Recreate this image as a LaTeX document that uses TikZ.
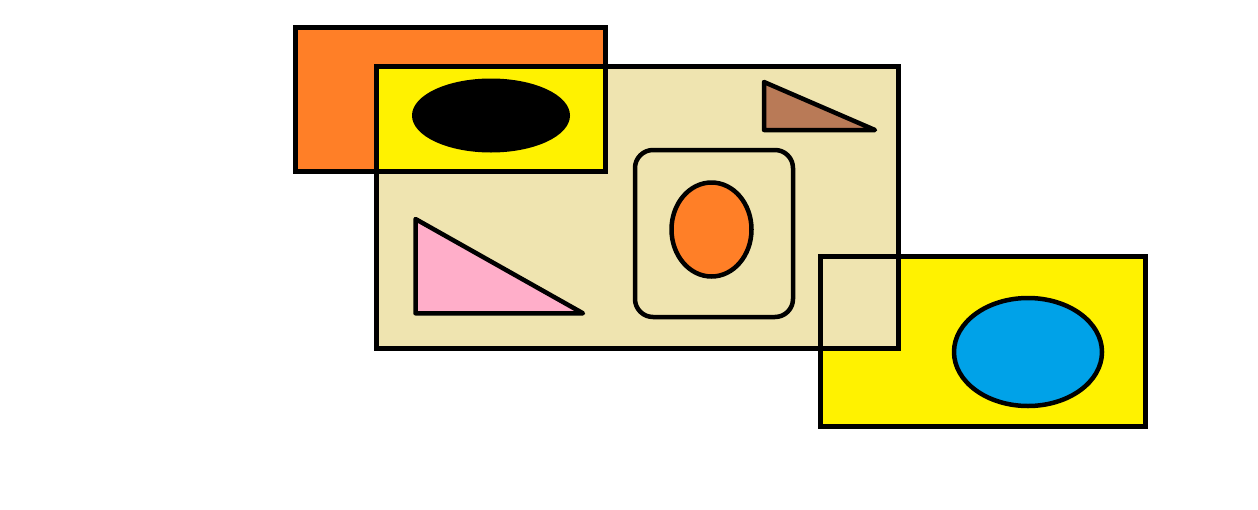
\documentclass[tikz,border=0pt]{standalone}
\begin{document}
\begin{tikzpicture}[x=1pt,y=-1pt,
  edge/.style={draw=black,line width=4.5pt},
  fillonly/.style={draw=none}]
\definecolor{pOrange}{RGB}{255,127,39}
\definecolor{pYellow}{RGB}{255,242,0}
\definecolor{pBeige}{RGB}{239,228,176}
\definecolor{pPink}{RGB}{255,174,201}
\definecolor{pBrown}{RGB}{185,122,87}
\definecolor{pBlue}{RGB}{0,162,232}
\useasboundingbox[fill=white] (0,0) rectangle (1258,509);
% fills
\fill[pOrange] (295.5,27.5) rectangle (605.5,171.3);
\fill[pYellow] (820.7,256.7) rectangle (1145.7,426.7);
\fill[pBeige] (376.7,66.3) rectangle (898.3,348.3);
\fill[pYellow] (376.7,66.3) rectangle (605.5,171.3);
% outlines
\draw[edge] (295.5,27.5) rectangle (605.5,171.3);
\draw[edge] (376.7,66.3) rectangle (898.3,348.3);
\draw[edge] (820.7,256.7) rectangle (1145.7,426.7);
% inner shapes
\fill[black] (491,115.5) ellipse [x radius=79, y radius=37];
\draw[edge,fill=pBlue] (1028,352) ellipse [x radius=74, y radius=54];
\draw[edge,rounded corners=18pt] (635,150) rectangle (793,317);
\draw[edge,fill=pOrange] (711.5,229.5) ellipse [x radius=40, y radius=47];
\draw[edge,fill=pBrown,line join=round] (764,82) -- (764,130) -- (875,130) -- cycle;
\draw[edge,fill=pPink,line join=round] (415.5,219) -- (415.5,313.3) -- (583,313.3) -- cycle;
\end{tikzpicture}
\end{document}
